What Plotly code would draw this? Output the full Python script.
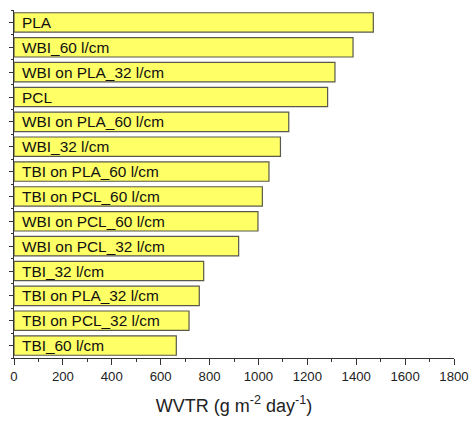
import plotly.graph_objects as go

categories = ["PLA", "WBI_60 l/cm", "WBI on PLA_32 l/cm", "PCL", "WBI on PLA_60 l/cm",
              "WBI_32 l/cm", "TBI on PLA_60 l/cm", "TBI on PCL_60 l/cm", "WBI on PCL_60 l/cm",
              "WBI on PCL_32 l/cm", "TBI_32 l/cm", "TBI on PLA_32 l/cm", "TBI on PCL_32 l/cm",
              "TBI_60 l/cm"]
wvtr = [1470, 1387, 1313, 1283, 1124, 1090, 1043, 1016, 998, 919, 776, 758, 716, 664]
x_ticks = [0, 200, 400, 600, 800, 1000, 1200, 1400, 1600, 1800]

pos = list(range(len(categories)))

fig = go.Figure()
fig.add_trace(go.Bar(
    x=wvtr, y=pos, orientation="h", width=0.78,
    marker=dict(color="#FFFF66", line=dict(color="#5a5a4a", width=1.2)),
    hovertext=categories, showlegend=False,
))
for c, p in zip(categories, pos):
    fig.add_annotation(x=0, y=p, text=c, xanchor="left", yanchor="middle", xshift=6, yshift=0,
                       showarrow=False, font=dict(family="Liberation Sans, Arial", size=15.4, color="#111"))

fig.update_layout(
    width=470, height=422, margin=dict(l=14, r=16, t=10, b=64),
    plot_bgcolor="white", paper_bgcolor="white",
    font=dict(family="Liberation Sans, Arial", color="#222"),
    bargap=0.2,
)
fig.update_xaxes(
    range=[0, 1800], tickvals=x_ticks, ticktext=[str(v) for v in x_ticks], automargin=False,
    showgrid=False, zeroline=False, showline=True, linecolor="#333", linewidth=1.2,
    ticks="outside", ticklen=6, tickcolor="#333", tickwidth=1.2,
    minor=dict(ticks="outside", ticklen=3, dtick=100, tick0=0, tickcolor="#333", showgrid=False),
    tickfont=dict(size=13.2, color="#222"),
    title=dict(text="WVTR (g m<sup>-2</sup> day<sup>-1</sup>)", font=dict(size=18, color="#222"), standoff=16),
)
fig.update_yaxes(
    range=[len(categories) - 0.5, -0.5], tickvals=pos, showticklabels=False, automargin=False,
    showgrid=False, zeroline=False, showline=True, linecolor="#333", linewidth=1.2,
    ticks="outside", ticklen=4, tickcolor="#333", tickwidth=1.2,
    minor=dict(ticks="outside", ticklen=2, dtick=1, tick0=0.5, tickcolor="#333", showgrid=False),
)

fig.write_html("out.html", config={"displayModeBar": False},
               post_script="document.body.style.margin='0';document.body.style.overflow='hidden';")
